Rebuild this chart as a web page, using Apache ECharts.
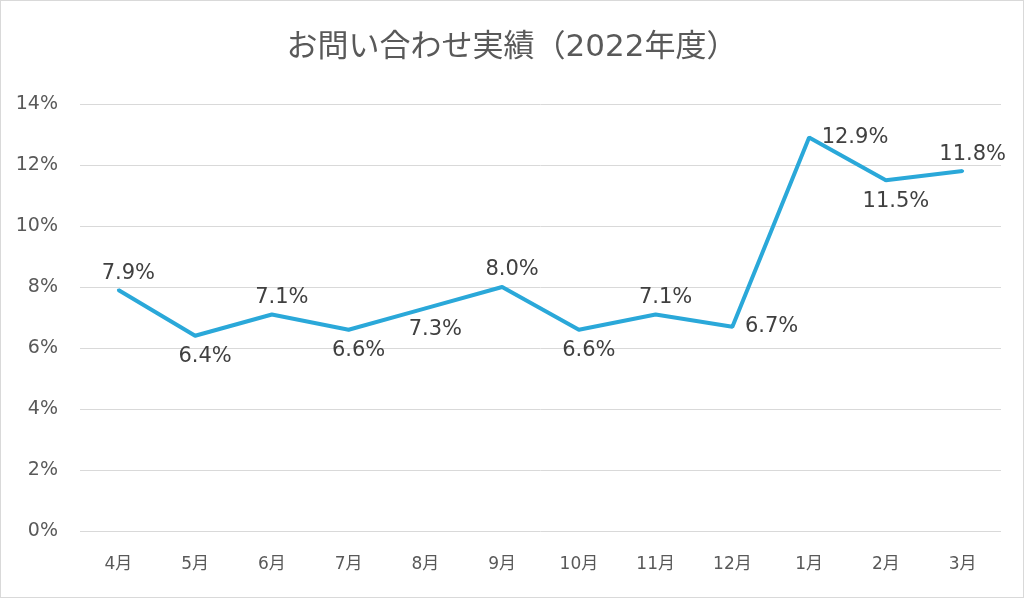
<!DOCTYPE html>
<html><head><meta charset="utf-8">
<script src="https://cdn.jsdelivr.net/npm/echarts@6/dist/echarts.min.js"></script>
<style>html,body{margin:0;padding:0;background:#fff}#c{width:1024px;height:598px;box-sizing:border-box;border:1px solid #d9d9d9}</style>
</head><body><div id="c"></div>
<script>
const title = 'お問い合わせ実績（2022年度）';
const categories = ['4月','5月','6月','7月','8月','9月','10月','11月','12月','1月','2月','3月'];
const values = [7.9, 6.4, 7.1, 6.6, 7.3, 8.0, 6.6, 7.1, 6.7, 12.9, 11.5, 11.8];
const labelPos = ['top','bottom','top','bottom','bottom','top','bottom','top','right','right','bottom','top'];
const yTicks = [0, 2, 4, 6, 8, 10, 12, 14];

const font = 'DejaVu Sans, Noto Sans CJK JP, sans-serif';
const chart = echarts.init(document.getElementById('c'));
chart.setOption({
  animation: false,
  title: { text: title, left: 'center', top: 26, textStyle: { fontFamily: font, fontSize: 31, fontWeight: 'normal', color: '#595959' } },
  grid: { left: 79, right: 22, top: 103, bottom: 66 },
  xAxis: {
    type: 'category', data: categories, boundaryGap: true,
    axisLine: { show: false }, axisTick: { show: false },
    axisLabel: { fontFamily: font, fontSize: 17, color: '#595959', margin: 25 }
  },
  yAxis: {
    type: 'value', min: yTicks[0], max: yTicks[yTicks.length-1], interval: 2,
    axisLabel: { formatter: '{value}%', fontFamily: font, fontSize: 19, color: '#595959', margin: 22 },
    splitLine: { lineStyle: { color: '#d9d9d9', width: 1 } },
    axisLine: { show: false }, axisTick: { show: false }
  },
  series: [{
    type: 'line', showSymbol: true, symbol: 'circle', symbolSize: 3,
    data: values.map((v, i) => ({
      value: v,
      label: { show: true, position: labelPos[i], offset: labelPos[i] === 'right' ? [4, 0] : [10, 2] }
    })),
    lineStyle: { color: '#2aa8d9', width: 4 },
    itemStyle: { color: '#2aa8d9' },
    label: { show: true, formatter: p => p.value.toFixed(1) + '%', fontFamily: font, fontSize: 21, color: '#404040', distance: 7 }
  }]
});
</script></body></html>
